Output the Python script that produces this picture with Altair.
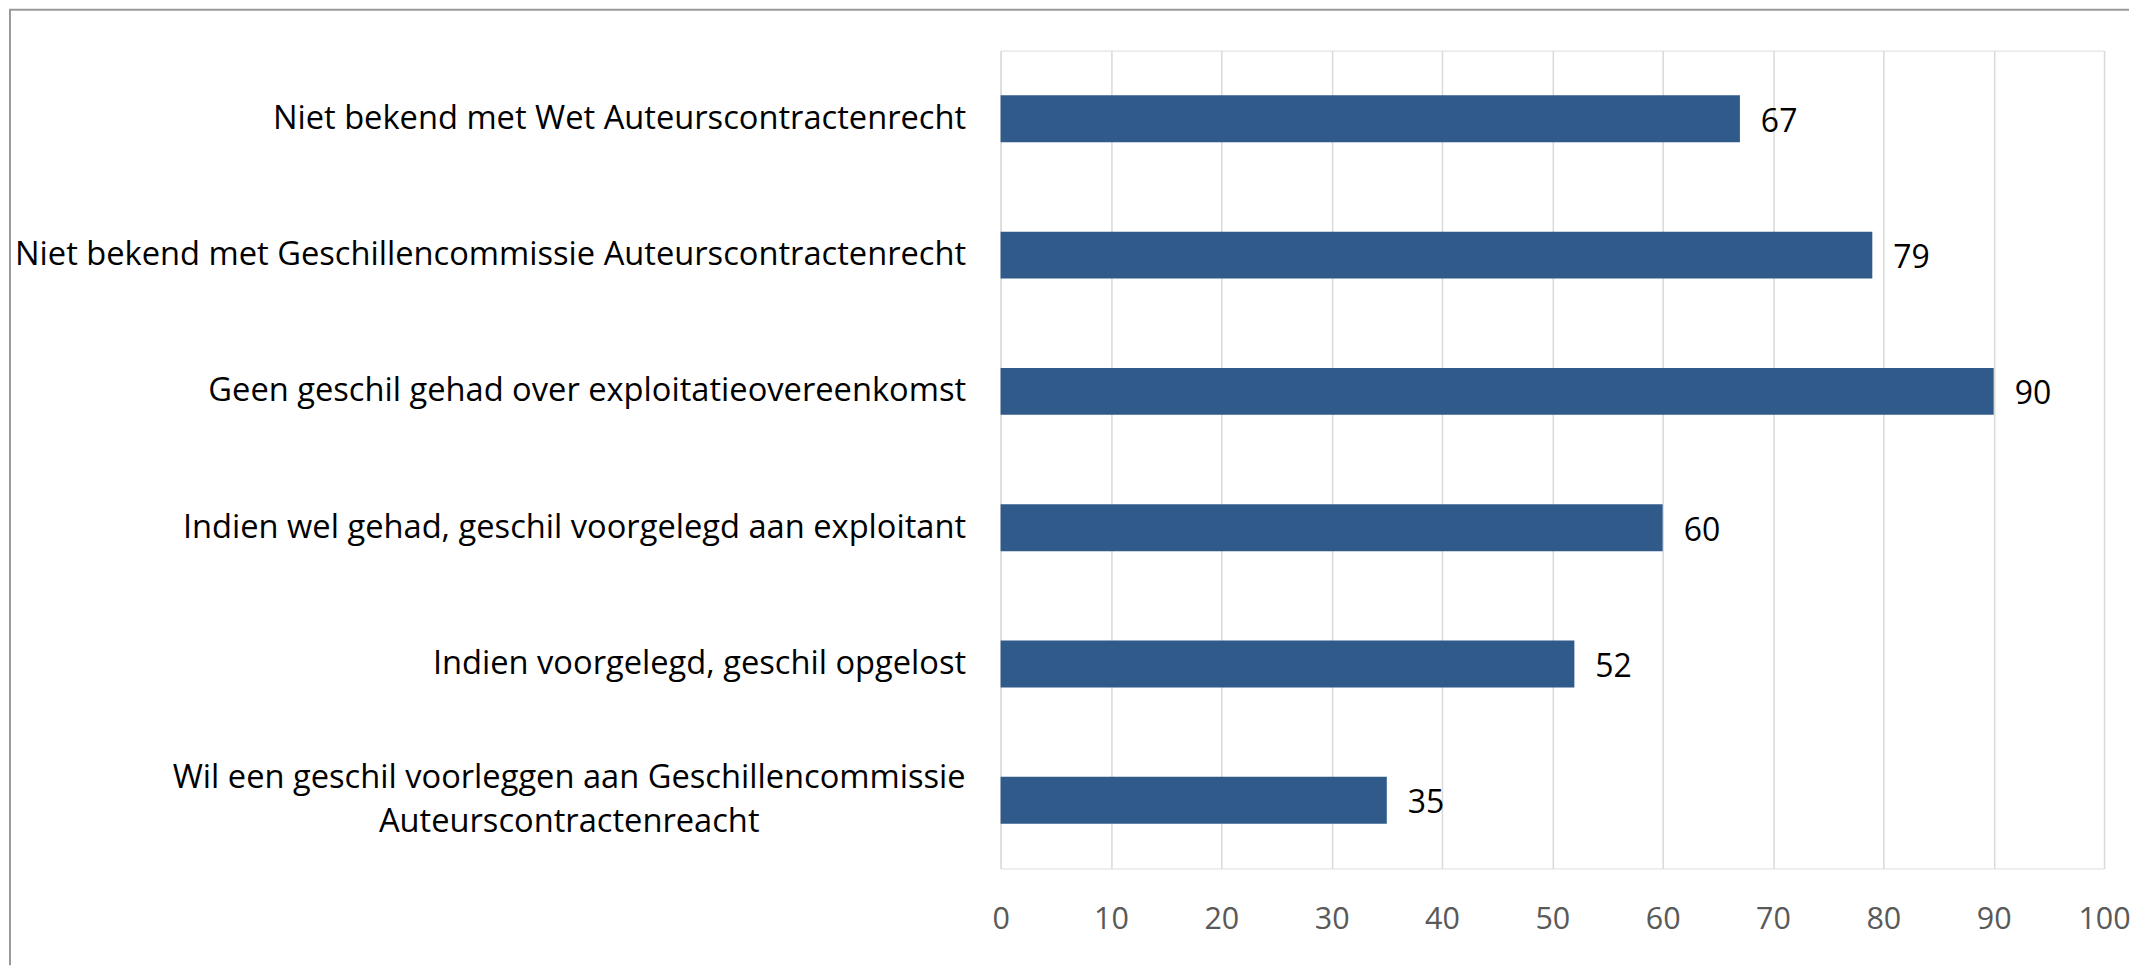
import altair as alt
import pandas as pd

categories = [
    "Niet bekend met Wet Auteurscontractenrecht",
    "Niet bekend met Geschillencommissie Auteurscontractenrecht",
    "Geen geschil gehad over exploitatieovereenkomst",
    "Indien wel gehad, geschil voorgelegd aan exploitant",
    "Indien voorgelegd, geschil opgelost",
    "Wil een geschil voorleggen aan Geschillencommissie Auteurscontractenreacht",
]
label_lines = [
    "Niet bekend met Wet Auteurscontractenrecht",
    "Niet bekend met Geschillencommissie Auteurscontractenrecht",
    "Geen geschil gehad over exploitatieovereenkomst",
    "Indien wel gehad, geschil voorgelegd aan exploitant",
    "Indien voorgelegd, geschil opgelost",
    "Wil een geschil voorleggen aan Geschillencommissie\nAuteurscontractenreacht",
]
values = [67, 79, 90, 60, 52, 35]
x_ticks = [0, 10, 20, 30, 40, 50, 60, 70, 80, 90, 100]

df = pd.DataFrame({"categorie": categories, "label": label_lines, "waarde": values})
frame = pd.DataFrame({"k": [0]})

FONT = "Open Sans"
BAR = "#2F5A8A"
CAT_SIZE = 32.7

y_enc = alt.Y(
    "categorie:N",
    sort=categories,
    scale=alt.Scale(paddingInner=0.656, paddingOuter=0.328),
    axis=alt.Axis(
        title=None, domain=False, ticks=False, grid=False,
        labelPadding=35, labelLimit=1400, labelFont=FONT, labelFontSize=CAT_SIZE,
        labelColor="#000000",
        labelExpr="indexof(datum.label, 'Wil een') == 0 ? '' : datum.label",
    ),
)
x_enc = alt.X(
    "waarde:Q",
    scale=alt.Scale(domain=[0, 100], nice=False),
    axis=alt.Axis(
        title=None, values=x_ticks, grid=True, gridColor="#d9d9d9", gridWidth=1.5,
        domain=False, ticks=False, labelFlush=False, labelFont=FONT,
        labelFontSize=30.5, labelColor="#595959", labelPadding=36,
    ),
)

base = alt.Chart(df)

bars = base.mark_bar(color=BAR).encode(y=y_enc, x=x_enc)

values_text = base.mark_text(
    align="left", baseline="middle", dx=21, dy=3, font=FONT, fontSize=32, color="#000000"
).encode(y=alt.Y("categorie:N", sort=categories), x="waarde:Q", text="waarde:Q")

wrapped = base.transform_filter(
    "indexof(datum.categorie, 'Wil een') == 0"
).mark_text(
    align="center", baseline="middle", font=FONT, fontSize=CAT_SIZE, lineBreak="\n",
    lineHeight=44, dy=-22, color="#000000"
).encode(y=alt.Y("categorie:N", sort=categories), x=alt.value(-432), text="label:N")

top_rule = alt.Chart(frame).mark_rule(color="#9a9a9a", strokeWidth=2).encode(
    x=alt.value(-993), x2=alt.value(1130), y=alt.value(-41)
)
left_rule = alt.Chart(frame).mark_rule(color="#9a9a9a", strokeWidth=2).encode(
    x=alt.value(-992), y=alt.value(-41), y2=alt.value(916)
)

chart = alt.layer(top_rule, left_rule, bars, values_text, wrapped).properties(
    width=1105, height=819, padding=0
).configure_view(stroke="transparent").configure(background="white")

chart.save("out.html", embed_options={"renderer": "svg", "actions": False})
